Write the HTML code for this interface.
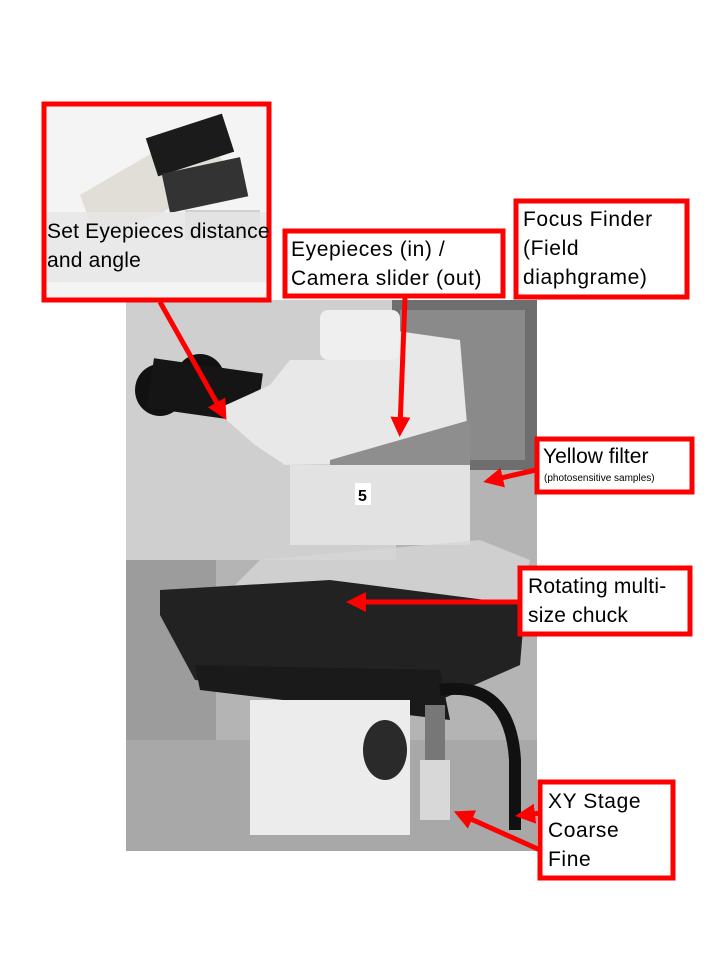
<!DOCTYPE html>
<html><head><meta charset="utf-8"><style>
body{margin:0;width:720px;height:960px;background:#fff;position:relative;overflow:hidden;font-family:"Liberation Sans",sans-serif;}
.t{position:absolute;color:#000;font-size:21px;letter-spacing:0.6px;line-height:29px;white-space:nowrap;}
</style></head><body>
<svg width="720" height="960" style="position:absolute;left:0;top:0">
<defs><marker id="a" markerWidth="4" markerHeight="4" refX="2.2" refY="2" orient="auto"><path d="M0,0 L4,2 L0,4 Z" fill="#f00"/></marker></defs>
<rect x="126" y="300" width="411" height="551" fill="#b4b4b4"/>
<rect x="126" y="300" width="270" height="260" fill="#cfcfcf"/>
<rect x="392" y="300" width="145" height="170" fill="#6e6e6e"/>
<rect x="400" y="310" width="125" height="150" fill="#8a8a8a"/>
<rect x="126" y="560" width="90" height="200" fill="#9c9c9c"/>
<rect x="126" y="740" width="411" height="111" fill="#a8a8a8"/>
<ellipse cx="160" cy="390" rx="25" ry="26" fill="#111"/>
<ellipse cx="200" cy="380" rx="25" ry="26" fill="#111"/>
<rect x="150" y="365" width="110" height="50" fill="#151515" transform="rotate(8 200 390)"/>
<path d="M215 410 L270 385 L290 360 L330 360 L390 330 L460 340 L470 460 L285 465 L255 445 Z" fill="#e8e8e8"/>
<path d="M330 460 L470 420 L470 465 L330 465 Z" fill="#8e8e8e"/>
<rect x="320" y="310" width="80" height="50" rx="8" fill="#efefef"/>
<rect x="290" y="465" width="180" height="80" fill="#e2e2e2"/>
<rect x="355" y="483" width="16" height="22" fill="#fff"/>
<text x="358" y="501" font-size="16" font-family="Liberation Sans" font-weight="bold">5</text>
<path d="M220 600 L260 560 L480 540 L530 560 L520 600 Z" fill="#d6d6d6" opacity="0.8"/>
<path d="M160 590 L330 580 L525 605 L520 665 L440 700 L195 680 L160 615 Z" fill="#222"/>
<path d="M195 665 L440 670 L450 720 L200 690 Z" fill="#1a1a1a"/>
<rect x="250" y="700" width="160" height="135" fill="#ececec"/>
<ellipse cx="385" cy="750" rx="22" ry="30" fill="#2a2a2a"/>
<rect x="425" y="705" width="20" height="60" fill="#777"/>
<rect x="420" y="760" width="30" height="60" fill="#d8d8d8"/>
<path d="M440 690 Q510 680 515 760 L515 830" stroke="#111" stroke-width="12" fill="none"/>
<rect x="45" y="106" width="222" height="192" fill="#f4f4f4"/>
<path d="M80 195 L140 160 L200 125 L225 165 L160 215 L95 235 Z" fill="#e0ded6"/>
<rect x="150" y="125" width="80" height="40" fill="#1b1b1b" transform="rotate(-18 190 145)"/>
<rect x="165" y="165" width="80" height="40" fill="#333" transform="rotate(-12 205 185)"/>
<rect x="185" y="210" width="75" height="30" fill="#d0d0d0"/>
<rect x="45" y="212" width="222" height="70" fill="#e6e6e6" opacity="0.85"/>
<g fill="none" stroke="#f00" stroke-width="5">
<rect x="44" y="104" width="225" height="196"/>
<rect x="285" y="231" width="218" height="65"/>
<rect x="516" y="201" width="171" height="96"/>
<rect x="537" y="439" width="155" height="53"/>
<rect x="520" y="568" width="170" height="66"/>
<rect x="540" y="782" width="133" height="96"/>
</g>
<rect x="287.5" y="233.5" width="213" height="60" fill="#fff"/>
<rect x="518.5" y="203.5" width="166" height="91" fill="#fff"/>
<rect x="539.5" y="441.5" width="150" height="48" fill="#fff"/>
<rect x="522.5" y="570.5" width="165" height="61" fill="#fff"/>
<rect x="542.5" y="784.5" width="128" height="91" fill="#fff"/>
<g stroke="#f00" stroke-width="5" fill="none" marker-end="url(#a)">
<line x1="160" y1="302" x2="222" y2="412"/>
<line x1="405" y1="298" x2="400" y2="428"/>
<line x1="536" y1="470" x2="492" y2="480"/>
<line x1="519" y1="602" x2="355" y2="602"/>
<line x1="541" y1="813" x2="524" y2="815"/>
<line x1="540" y1="850" x2="462" y2="815"/>
</g>
</svg>
<div class="t" style="left:47px;top:217px;letter-spacing:0.2px;">Set Eyepieces distance<br>and angle</div>
<div class="t" style="left:291px;top:235px;">Eyepieces (in) /<br>Camera slider (out)</div>
<div class="t" style="left:523px;top:205px;">Focus Finder<br>(Field<br>diaphgrame)</div>
<div class="t" style="left:543px;top:445px;line-height:24px;letter-spacing:0;">Yellow filter</div>
<div class="t" style="left:544px;top:473px;font-size:10px;line-height:12px;letter-spacing:0;">(photosensitive samples)</div>
<div class="t" style="left:528px;top:572px;letter-spacing:0.2px;">Rotating multi-<br>size chuck</div>
<div class="t" style="left:548px;top:787px;">XY Stage<br>Coarse<br>Fine</div>
</body></html>
